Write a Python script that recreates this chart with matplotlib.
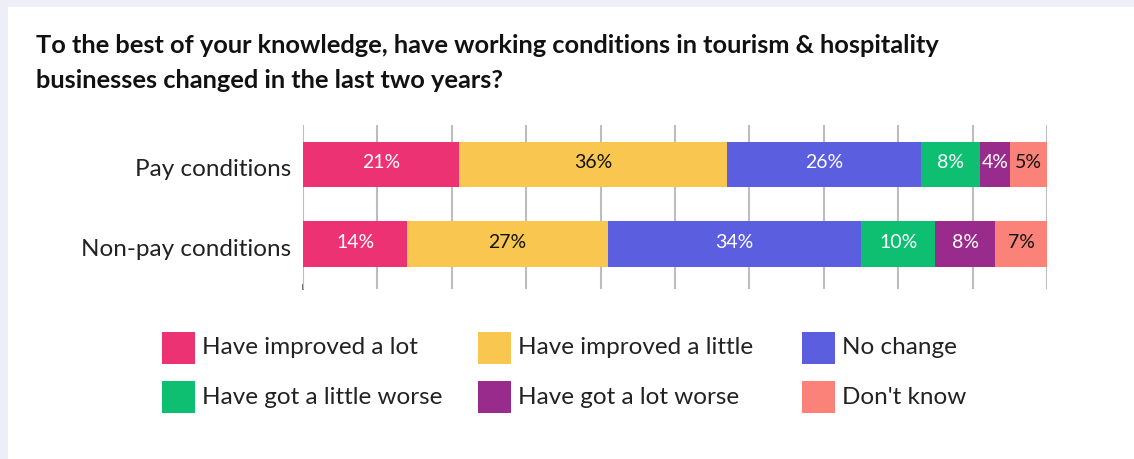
import matplotlib
matplotlib.use("Agg")
import matplotlib.pyplot as plt
from matplotlib.patches import Rectangle

categories = ["Pay conditions", "Non-pay conditions"]
series_names = ["Have improved a lot", "Have improved a little", "No change",
                "Have got a little worse", "Have got a lot worse", "Don't know"]
pay_values = [21, 36, 26, 8, 4, 5]
nonpay_values = [14, 27, 34, 10, 8, 7]
colors = ["#EC3273", "#F9C74F", "#5C5EE0", "#0EBF71", "#982B8B", "#FA8278"]
label_colors = ["white", "#111111", "white", "white", "white", "#111111"]

title = ("To the best of your knowledge, have working conditions in tourism & hospitality\n"
         "businesses changed in the last two years?")

W, H = 1134, 459
fig = plt.figure(figsize=(W / 100, H / 100), dpi=100)
fig.patch.set_facecolor("#EEEEF8")
fig.add_artist(Rectangle((8 / W, 0), 1, 1 - 7 / H, transform=fig.transFigure,
                         facecolor="white", edgecolor="none", zorder=0))

fig.text(36 / W, 1 - 63 / H, title, fontsize=18.3, fontweight="bold", family="Lato",
         color="#111111", va="center", ha="left", linespacing=1.6)

ax = fig.add_axes([303 / W, 1 - 289 / H, (1047 - 303) / W, (289 - 125) / H])
ax.set_facecolor("none")
data = [pay_values, nonpay_values]
ypos = [0, 1]
bar_h = 0.57
for row, vals in zip(ypos, data):
    left = 0
    for i, v in enumerate(vals):
        ax.barh(row, v, left=left, height=bar_h, color=colors[i], edgecolor="none", zorder=3)
        ax.text(left + v / 2, row - 0.02, f"{v}%", ha="center", va="center",
                fontsize=14, color=label_colors[i], family="Lato", zorder=4)
        left += v

ax.set_xlim(0, 100)
ax.set_ylim(1.566, -0.497)
ax.set_xticks(range(0, 101, 10))
ax.grid(axis="x", color="#BDBDBD", linewidth=1.5, zorder=0)
ax.tick_params(axis="x", length=0, labelbottom=False)
ax.set_yticks([])
for row, cat in zip(ypos, categories):
    ax.annotate(cat, xy=(0, row), xycoords=ax.get_yaxis_transform(),
                xytext=(-12, -5), textcoords="offset pixels", ha="right", va="center",
                fontsize=17.5, family="Lato", color="#222222")
for s in ax.spines.values():
    s.set_visible(False)
# short dark tick at the foot of the zero line
ax.plot([0, 0], [1.52, 1.566], color="#555555", linewidth=1.2, zorder=1, clip_on=False)

# legend laid out as a 3 x 2 grid
col_x = [162, 478, 802]
row_y = [348, 397]
for i, name in enumerate(series_names):
    c, r = i % 3, i // 3
    x, y = col_x[c], row_y[r]
    fig.add_artist(Rectangle((x / W, 1 - (y + 16) / H), 33 / W, 32 / H,
                             transform=fig.transFigure, facecolor=colors[i], edgecolor="none"))
    fig.text((x + 40) / W, 1 - y / H, name, fontsize=17.5, family="Lato", color="#222222",
             va="center", ha="left")

fig.savefig("out.png", dpi=100, facecolor=fig.get_facecolor())
